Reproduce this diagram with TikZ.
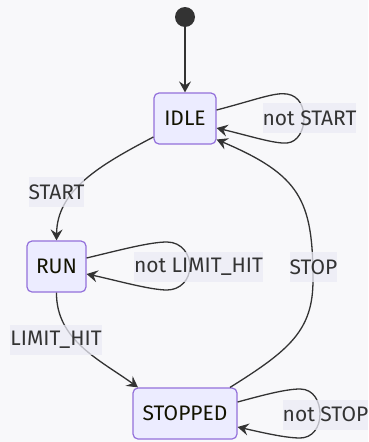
\documentclass[tikz,border=0pt]{standalone}
\usepackage{fontspec}
\setmainfont{Fira Sans}
\usetikzlibrary{arrows.meta}
\definecolor{bg}{HTML}{F8F8FA}
\definecolor{nodefill}{HTML}{ECECFF}
\definecolor{nodeborder}{HTML}{9370DB}
\definecolor{edgec}{HTML}{333333}
\definecolor{lblbg}{HTML}{EBEBF5}
\definecolor{txt}{HTML}{131300}
\begin{document}
\begin{tikzpicture}[x=1pt,y=-1pt,
 state/.style={draw=nodeborder, fill=nodefill, line width=1.2pt, rounded corners=5pt, minimum height=51pt, inner sep=0pt, font=\fontsize{21}{25}\selectfont, text=txt},
 lbl/.style={fill=lblbg, fill opacity=0.75, text opacity=1, text=edgec, inner xsep=0pt, inner ysep=0pt, minimum height=30pt, font=\fontsize{21}{25}\selectfont},
 tr/.style={draw=edgec, line width=1.3pt, -{Stealth[length=11pt,width=12pt,inset=4pt]}}]
\useasboundingbox[fill=bg] (0,0) rectangle (368,442);
\node[circle, fill=edgec, minimum size=20pt, inner sep=0pt] (start) at (185,17) {};
\node[state, minimum width=62pt] (idle) at (185,118.5) {IDLE};
\node[state, minimum width=59pt] (run) at (56.5,266.5) {RUN};
\node[state, minimum width=104pt] (stopped) at (185,413.5) {STOPPED};
\draw[tr] (start) -- (idle);
\draw[tr] ([yshift=8.5pt]idle.east) .. controls (255,100) and (275,92) .. (287,94) .. controls (300,96) and (304,108) .. (304,118) .. controls (304,130) and (298,142) .. (287,143) .. controls (275,144) and (250,136) .. ([yshift=-9.5pt]idle.east);
\draw[tr] ([yshift=8.5pt]run.east) .. controls (120,250) and (150,242) .. (167,242) .. controls (182,242) and (190,255) .. (190,266) .. controls (190,280) and (180,290) .. (167,290) .. controls (150,290) and (115,280) .. ([yshift=-7.5pt]run.east);
\draw[tr] ([yshift=11.5pt]stopped.east) .. controls (260,396) and (285,389) .. (300,389) .. controls (314,389) and (320,402) .. (320,414) .. controls (320,428) and (312,438) .. (300,438) .. controls (285,438) and (260,432) .. ([yshift=-13.5pt]stopped.east);
\draw[tr] ([yshift=-18.5pt]idle.west) .. controls (100,165) and (57,190) .. (run.north);
\draw[tr] (run.south) .. controls (56,340) and (100,360) .. ([xshift=-47pt]stopped.north);
\draw[tr] ([xshift=45pt]stopped.north) .. controls (290,350) and (313,330) .. (313,280) .. controls (313,200) and (300,175) .. ([yshift=-21pt]idle.east);
\node[lbl] (lstart) at (56.5,192) {START};
\node[lbl] (lnotstart) at (309.5,118) {not START};
\node[lbl] (lnotlimit) at (198.5,267) {not LIMIT\_HIT};
\node[lbl] (lstop) at (313.5,267) {STOP};
\node[lbl] (llimit) at (56,340) {LIMIT\_HIT};
\node[lbl] (lnotstop) at (325.5,414.5) {not STOP};
\end{tikzpicture}
\end{document}
